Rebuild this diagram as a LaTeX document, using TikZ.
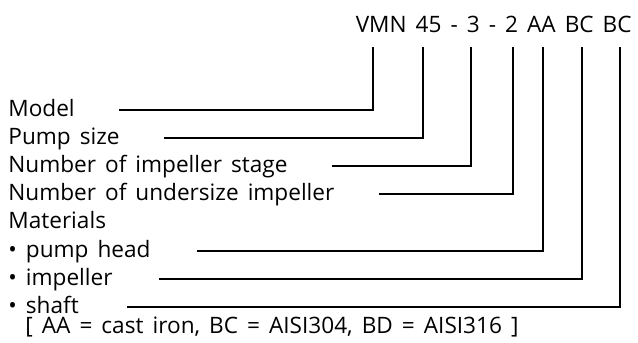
\documentclass[tikz,border=0pt]{standalone}
\usepackage{fontspec}
\setmainfont{Open Sans}
\usetikzlibrary{positioning}

\newcommand{\labelfont}{\fontsize{11.3}{13}\selectfont\spaceskip=0.4em\relax}

\begin{document}
\begin{tikzpicture}[
  x=0.5pt, y=-0.5pt,
  every node/.style={font=\labelfont, inner sep=0pt},
  lbl/.style={anchor=base west},
  conn/.style={line width=0.9pt}
]
  \useasboundingbox (0,0) rectangle (638,343);

  \node[anchor=base east] (code) at (632,32) {VMN 45 - 3 - 2 AA BC BC};

  % tops of the leader lines, under the code letters
  \coordinate (tmodel) at (373,47);
  \coordinate (tsize)  at (423,47);
  \coordinate (tstage) at (471,47);
  \coordinate (tunder) at (513,47);
  \coordinate (thead)  at (543,47);
  \coordinate (timp)   at (582,47);
  \coordinate (tshaft) at (620,47);

  \node[lbl] (model) at (8,116) {Model};
  \node[lbl] (size)  at (8,144) {Pump size};
  \node[lbl] (stage) at (8,172) {Number of impeller stage};
  \node[lbl] (under) at (8,200) {Number of undersize impeller};
  \node[lbl] (mat)   at (8,228) {Materials};
  \node[lbl] (head)  at (8,257) {• pump head};
  \node[lbl] (imp)   at (8,285) {• impeller};
  \node[lbl] (shaft) at (8,313) {• shaft};
  \node[lbl] (key)   at (25,333) {[ AA = cast iron, BC = AISI304, BD = AISI316 ]};

  \draw[conn] ([xshift=22pt,yshift=3pt]model.base east) -| (tmodel);
  \draw[conn] ([xshift=22pt,yshift=3pt]size.base east)  -| (tsize);
  \draw[conn] ([xshift=22pt,yshift=3pt]stage.base east) -| (tstage);
  \draw[conn] ([xshift=22pt,yshift=3pt]under.base east) -| (tunder);
  \draw[conn] ([xshift=23pt,yshift=3pt]head.base east)  -| (thead);
  \draw[conn] ([xshift=23pt,yshift=3pt]imp.base east)   -| (timp);
  \draw[conn] ([xshift=24pt,yshift=3pt]shaft.base east) -| (tshaft);
\end{tikzpicture}
\end{document}
